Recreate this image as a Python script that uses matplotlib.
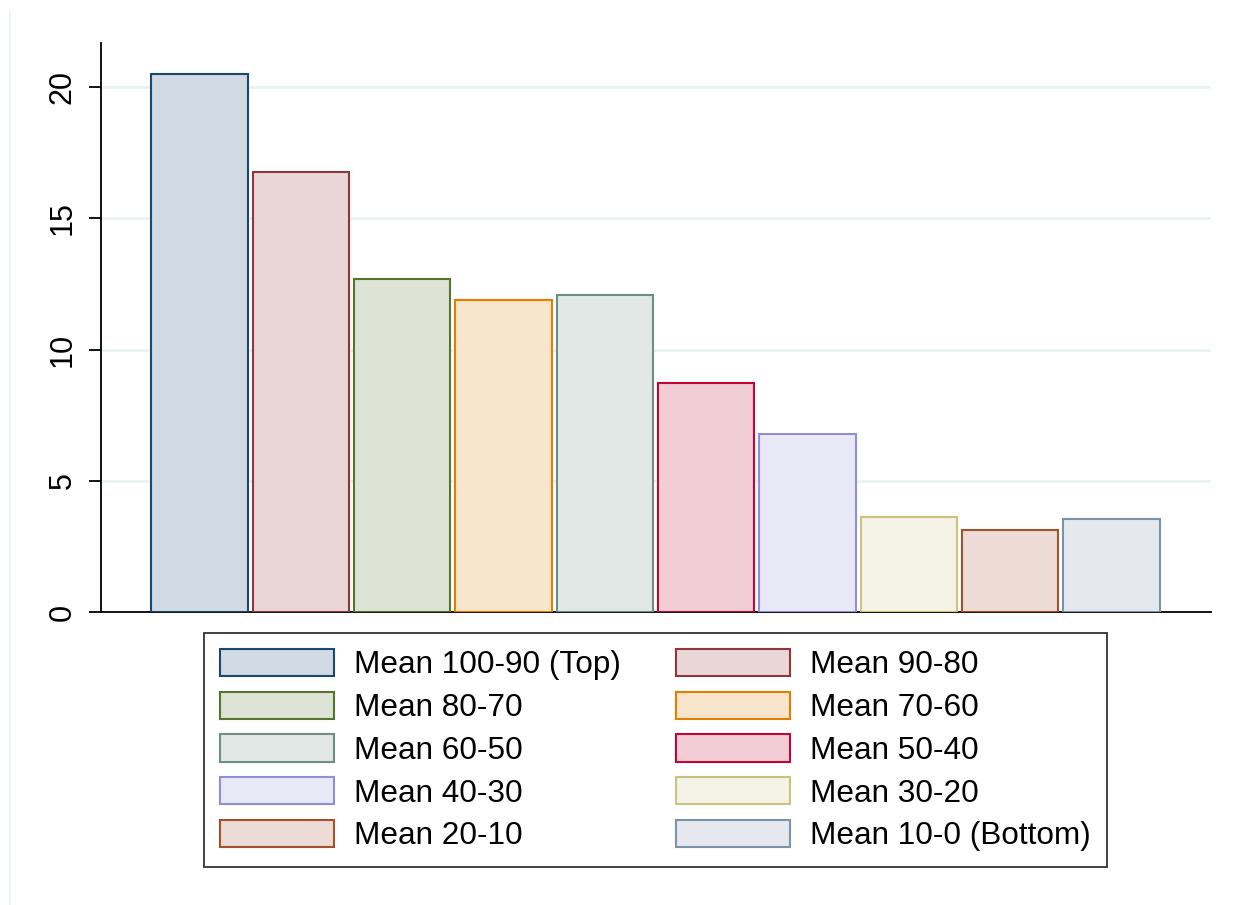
import matplotlib
matplotlib.use("Agg")
import matplotlib.pyplot as plt
from matplotlib.patches import Patch
from matplotlib.lines import Line2D
from matplotlib.colors import to_rgb

plt.rcParams['font.family'] = ['Liberation Sans', 'DejaVu Sans']

labels = ["Mean 100-90 (Top)", "Mean 90-80", "Mean 80-70", "Mean 70-60",
          "Mean 60-50", "Mean 50-40", "Mean 40-30", "Mean 30-20",
          "Mean 20-10", "Mean 10-0 (Bottom)"]
values = [20.5, 16.76, 12.69, 11.89, 12.08, 8.72, 6.78, 3.62, 3.12, 3.54]
edge_colors = ["#1a476f", "#90353b", "#55752f", "#e37e00", "#6e8e84",
               "#c10534", "#938dd2", "#cac27e", "#a0522d", "#7b92a8"]
yticks = [0, 5, 10, 15, 20]


def tint(c, a=0.2):
    r, g, b = to_rgb(c)
    return (1 - a + a * r, 1 - a + a * g, 1 - a + a * b)


fill_colors = [tint(c) for c in edge_colors]

fig = plt.figure(figsize=(12.39, 9.05), dpi=100)
ax = fig.add_axes([101 / 1239, 1 - 612 / 905, (1211 - 101) / 1239, (612 - 43) / 905])

x = list(range(len(values)))
for i, v in enumerate(values):
    ax.bar(x[i], v, width=0.95, color=fill_colors[i], edgecolor=edge_colors[i],
           linewidth=1.5, zorder=3)

ax.set_xlim(-0.973, 9.983)
ax.set_ylim(0, 21.68)
ax.set_yticks(yticks)
ax.set_yticklabels([str(t) for t in yticks], rotation=90, va='center', fontsize=22)
ax.set_xticks([])
ax.grid(axis='y', color='#eaf2f3', linewidth=2, zorder=0)
ax.set_axisbelow(True)
for s in ['top', 'right']:
    ax.spines[s].set_visible(False)
ax.spines['left'].set_linewidth(1.3)
ax.spines['bottom'].set_linewidth(1.3)
ax.tick_params(axis='y', length=9, width=1.3, pad=8)

handles = [Patch(facecolor=fill_colors[i], edgecolor=edge_colors[i], linewidth=1.5)
           for i in range(len(values))]
order = [0, 2, 4, 6, 8, 1, 3, 5, 7, 9]
leg = fig.legend([handles[i] for i in order], [labels[i] for i in order],
                 ncol=2, loc='upper center',
                 bbox_to_anchor=(655.5 / 1239, 1 - 633 / 905),
                 fontsize=22.7, frameon=True, fancybox=False, edgecolor='black',
                 handlelength=3.6, handleheight=0.95, handletextpad=0.65,
                 columnspacing=1.75, labelspacing=0.36, borderpad=0.5,
                 borderaxespad=0)
leg.get_frame().set_linewidth(1.3)

fig.add_artist(Line2D([10 / 1239, 10 / 1239], [0, 1 - 11 / 905],
                      color='#eaf2f3', linewidth=1.2))

fig.savefig("out.png", dpi=100)
